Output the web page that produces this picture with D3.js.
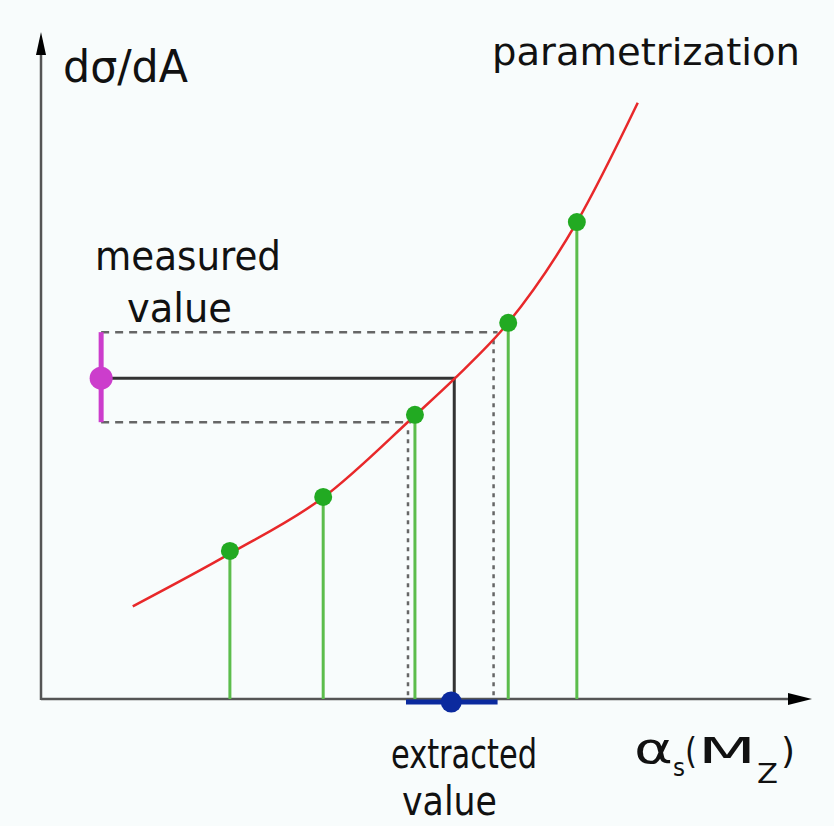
<!DOCTYPE html>
<html>
<head>
<meta charset="utf-8">
<script src="https://cdn.jsdelivr.net/npm/d3@7"></script>
<style>
  html, body { margin: 0; padding: 0; background: #f8fcfc; }
  svg { display: block; }
  text { font-family: "DejaVu Sans", sans-serif; fill: #111; }
  .cond { font-family: "DejaVu Sans Condensed", "DejaVu Sans", sans-serif; font-stretch: condensed; }
</style>
</head>
<body>
<svg id="chart" width="834" height="826"></svg>
<script>
// ---- data (arbitrary units) ----
const curveX   = [1.19, 2.45, 3.66, 4.85, 5.37, 6.06, 6.95, 7.74];
const curveY   = [1.39, 2.18, 3.02, 4.25, 4.81, 5.64, 7.15, 8.94];
const sampleX  = [2.45, 3.66, 4.85, 6.06, 6.95];
const sampleY  = [2.22, 3.03, 4.26, 5.64, 7.15];
const measuredPos = 0.78;
const measuredVal = [4.15, 4.81, 5.50];   // lo, central, hi
const extractedVal = [4.76, 5.36, 5.87];  // lo, central, hi

const svg = d3.select("#chart");
const x = d3.scaleLinear().domain([0, 10]).range([41, 812]);
const y = d3.scaleLinear().domain([0, 10]).range([699, 32]);

// ---- axes ----
const axisCol = "#555";
svg.append("line").attr("x1", x(0)).attr("x2", x(10) - 8).attr("y1", y(0)).attr("y2", y(0))
  .attr("stroke", axisCol).attr("stroke-width", 2.5);
svg.append("line").attr("x1", x(0)).attr("x2", x(0)).attr("y1", y(0) + 1).attr("y2", y(10) + 8)
  .attr("stroke", axisCol).attr("stroke-width", 2.5);
svg.append("path")
  .attr("d", `M${x(10)},${y(0)} L${x(10) - 24},${y(0) - 6} L${x(10) - 24},${y(0) + 6} Z`)
  .attr("fill", "#000");
svg.append("path")
  .attr("d", `M${x(0)},${y(10)} L${x(0) - 5},${y(10) + 23} L${x(0) + 5},${y(10) + 23} Z`)
  .attr("fill", "#000");

// ---- green stems ----
svg.selectAll(".stem").data(sampleX).enter().append("line")
  .attr("x1", d => x(d)).attr("x2", d => x(d))
  .attr("y1", (d, i) => y(sampleY[i])).attr("y2", y(0))
  .attr("stroke", "#5cbd4c").attr("stroke-width", 3);

// ---- dashed guide lines ----
const dashCol = "#666";
svg.append("line").attr("x1", x(measuredPos)).attr("x2", x(extractedVal[2]) + 4)
  .attr("y1", y(measuredVal[2])).attr("y2", y(measuredVal[2]))
  .attr("stroke", dashCol).attr("stroke-width", 2.5).attr("stroke-dasharray", "8,6");
svg.append("line").attr("x1", x(extractedVal[2])).attr("x2", x(extractedVal[2]))
  .attr("y1", y(measuredVal[2]) + 8).attr("y2", y(0))
  .attr("stroke", dashCol).attr("stroke-width", 2.5).attr("stroke-dasharray", "4,5");
svg.append("line").attr("x1", x(measuredPos)).attr("x2", x(extractedVal[0]) + 3)
  .attr("y1", y(measuredVal[0])).attr("y2", y(measuredVal[0]))
  .attr("stroke", dashCol).attr("stroke-width", 2.5).attr("stroke-dasharray", "8,6");
svg.append("line").attr("x1", x(extractedVal[0])).attr("x2", x(extractedVal[0]))
  .attr("y1", y(measuredVal[0]) + 8).attr("y2", y(0))
  .attr("stroke", dashCol).attr("stroke-width", 2.5).attr("stroke-dasharray", "4,5");

// ---- solid central line ----
svg.append("path")
  .attr("d", `M${x(measuredPos)},${y(measuredVal[1])} H${x(extractedVal[1])} V${y(0)}`)
  .attr("fill", "none").attr("stroke", "#333").attr("stroke-width", 3);

// ---- parametrization curve ----
const line = d3.line().x(d => x(d[0])).y(d => y(d[1])).curve(d3.curveMonotoneX);
svg.append("path").datum(curveX.map((v, i) => [v, curveY[i]]))
  .attr("d", line).attr("fill", "none").attr("stroke", "#e8282a").attr("stroke-width", 2.5);

// ---- green points ----
svg.selectAll(".pt").data(sampleX).enter().append("circle")
  .attr("cx", d => x(d)).attr("cy", (d, i) => y(sampleY[i])).attr("r", 9)
  .attr("fill", "#22aa22");

// ---- measured value (magenta) ----
svg.append("line").attr("x1", x(measuredPos)).attr("x2", x(measuredPos))
  .attr("y1", y(measuredVal[0])).attr("y2", y(measuredVal[2]))
  .attr("stroke", "#cc3dcc").attr("stroke-width", 5);
svg.append("circle").attr("cx", x(measuredPos)).attr("cy", y(measuredVal[1])).attr("r", 11.5)
  .attr("fill", "#cc3dcc");

// ---- extracted value (blue) ----
svg.append("line").attr("x1", x(extractedVal[0]) - 2).attr("x2", x(extractedVal[2]) + 4)
  .attr("y1", y(0) + 3).attr("y2", y(0) + 3)
  .attr("stroke", "#0b2a9e").attr("stroke-width", 5);
svg.append("circle").attr("cx", x(extractedVal[1]) - 3).attr("cy", y(0) + 3).attr("r", 10.5)
  .attr("fill", "#0b2a9e");

// ---- text ----
function label(t, px, py, size, len, cls) {
  const el = svg.append("text").attr("x", px).attr("y", py).attr("font-size", size).text(t);
  if (len) el.attr("textLength", len).attr("lengthAdjust", "spacingAndGlyphs");
  if (cls) el.attr("class", cls);
  return el;
}
label("dσ/dA", 63, 82, 44, 125);
label("parametrization", 492, 65, 38, 308);
label("measured", 95, 270, 41, 186);
label("value", 127, 322, 41, 105);
label("extracted", 391, 768, 40, 146, "cond");
label("value", 402, 815, 40, 95, "cond");
// α_s(M_Z)
label("α", 634, 763, 42, 39);
label("s", 673, 776, 24, 12);
label("(", 685, 763, 36, 12);
label("M", 698, 763, 36, 58);
label("Z", 757, 783, 27, 21);
label(")", 781, 763, 36, 14);
</script>
</body>
</html>
